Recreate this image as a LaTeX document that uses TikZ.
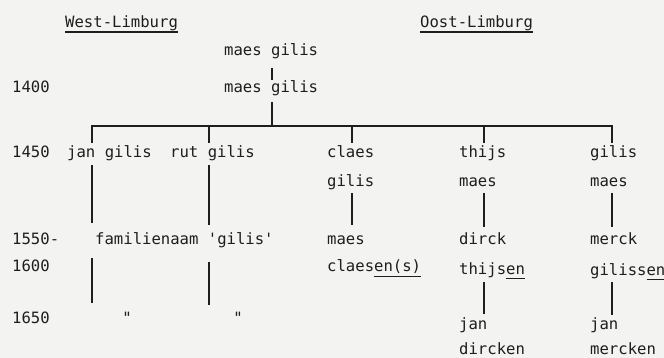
\documentclass[tikz,border=0pt]{standalone}
\usepackage{fontspec}
\setmonofont{DejaVu Sans Mono}
\definecolor{paper}{RGB}{243,243,241}
\definecolor{ink}{RGB}{30,30,30}
\newcommand\myul[1]{\setbox0\hbox{#1}\rlap{\rule[-4.6pt]{\wd0}{1.1pt}}#1}
\begin{document}
\begin{tikzpicture}[x=1pt,y=-1pt,
  txt/.style={anchor=base west,inner sep=0pt,text height=12pt,text depth=4pt,
    font=\ttfamily\fontsize{15.6}{18}\selectfont,text=ink},
  ln/.style={draw=ink,line width=1.6pt}]
\fill[paper] (0,0) rectangle (664,358);
\useasboundingbox (0,0) rectangle (664,358);
% headings
\node[txt] (west) at (65,28) {\myul{West-Limburg}};
\node[txt] (oost) at (420,28) {\myul{Oost-Limburg}};
% years
\node[txt] (y1400) at (12,93) {1400};
\node[txt] (y1450) at (12,158) {1450};
\node[txt] (y1550) at (12,244) {1550-};
\node[txt] (y1600) at (12,272) {1600};
\node[txt] (y1650) at (12,323) {1650};
% names
\node[txt] (mg1) at (224,56) {maes gilis};
\node[txt] (mg2) at (224,93) {maes gilis};
\node[txt] (jan) at (67,158) {jan gilis};
\node[txt] (rut) at (170,158) {rut gilis};
\node[txt] (fam) at (95,244) {familienaam 'gilis'};
\node[txt,anchor=base] (do1) at (127,323) {"};
\node[txt,anchor=base] (do2) at (238,323) {"};
\node[txt] (cl1) at (327,158) {claes};
\node[txt] (cl2) at (327,187) {gilis};
\node[txt] (cl3) at (327,244) {maes};
\node[txt] (cl4) at (327,272) {claes\myul{en(s)}};
\node[txt] (th1) at (459,158) {thijs};
\node[txt] (th2) at (459,187) {maes};
\node[txt] (th3) at (459,244) {dirck};
\node[txt] (th4) at (459,274) {thijs\myul{en}};
\node[txt] (th5) at (459,329) {jan};
\node[txt,text depth=0pt] (th6) at (459,354) {dircken};
\node[txt] (gi1) at (590,158) {gilis};
\node[txt] (gi2) at (590,187) {maes};
\node[txt] (gi3) at (590,244) {merck};
\node[txt] (gi4) at (590,275) {giliss\myul{en}};
\node[txt] (gi5) at (590,329) {jan};
\node[txt,text depth=0pt] (gi6) at (590,354) {mercken};
% junctions
\coordinate (j0) at (272,126);
\coordinate (c1) at (92,126);
\coordinate (c2) at (209,126);
\coordinate (c3) at (352,126);
\coordinate (c4) at (484,126);
\coordinate (c5) at (612,126);
% connectors
\draw[ln,shorten <=8pt,shorten >=1pt] (mg1.south -| j0) -- (mg2.north -| j0);
\draw[ln,shorten <=5pt] (mg2.south -| j0) -- (j0);
\draw[ln,line cap=rect] (c1) -- (c5);
\foreach \c/\n in {c1/jan,c2/rut,c3/cl1,c4/th1,c5/gi1}
  \draw[ln,shorten >=3pt] (\c) -- (\n.north -| \c);
\draw[ln,shorten <=3pt,shorten >=9pt] (jan.south -| c1) -- (fam.north -| c1);
\draw[ln,shorten <=3pt,shorten >=7pt] (rut.south -| c2) -- (fam.north -| c2);
\draw[ln,shorten <=10pt,shorten >=8pt] (fam.south -| c1) -- (do1.north -| c1);
\draw[ln,shorten <=14pt,shorten >=6pt] (fam.south -| c2) -- (do2.north -| c2);
\draw[ln,shorten <=2pt,shorten >=7pt] (cl2.south -| c3) -- (cl3.north -| c3);
\draw[ln,shorten <=2pt,shorten >=5pt] (th2.south -| c4) -- (th3.north -| c4);
\draw[ln,shorten <=2pt,shorten >=5pt] (gi2.south -| c5) -- (gi3.north -| c5);
\draw[ln,shorten <=4pt,shorten >=3pt] (th4.south -| c4) -- (th5.north -| c4);
\draw[ln,shorten <=3pt,shorten >=2pt] (gi4.south -| c5) -- (gi5.north -| c5);
\end{tikzpicture}
\end{document}
